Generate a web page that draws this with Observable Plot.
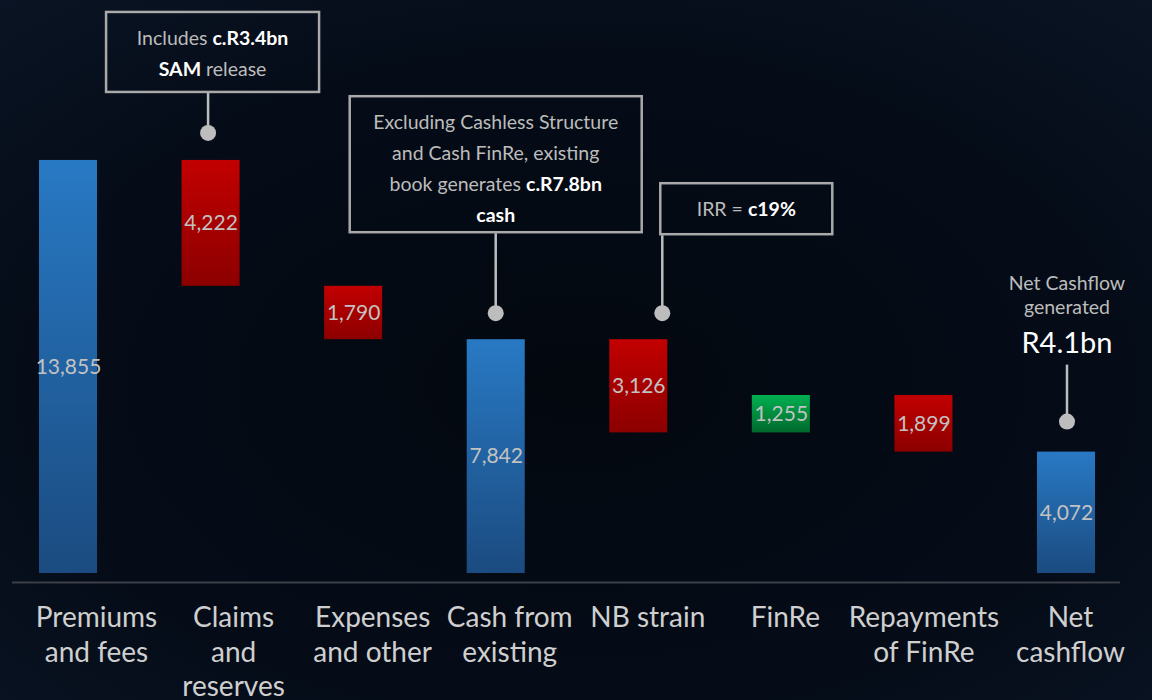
<!DOCTYPE html>
<html>
<head>
<meta charset="utf-8">
<script src="https://cdn.jsdelivr.net/npm/d3@7"></script>
<script src="https://cdn.jsdelivr.net/npm/@observablehq/plot@0.6"></script>
<style>
  html, body { margin: 0; padding: 0; width: 1152px; height: 700px; overflow: hidden; }
  body { background: radial-gradient(ellipse 85% 85% at 50% 55%, #03080f 0%, #050c18 55%, #0c1728 100%); }
  #chart svg { display: block; }
</style>
</head>
<body>
<div id="chart"></div>
<script>
// ---------- data ----------
const categories = ["Premiums and fees", "Claims and reserves", "Expenses and other", "Cash from existing",
                    "NB strain", "FinRe", "Repayments of FinRe", "Net cashflow"];
const tickLabels = ["Premiums\nand fees", "Claims\nand\nreserves", "Expenses\nand other", "Cash from\nexisting",
                    "NB strain", "FinRe", "Repayments\nof FinRe", "Net\ncashflow"];
const values = [13855, -4222, -1790, 7842, -3126, 1255, -1899, 4072];
const kinds = ["total", "decrease", "decrease", "total", "decrease", "increase", "decrease", "total"];
const valueLabels = ["13,855", "4,222", "1,790", "7,842", "3,126", "1,255", "1,899", "4,072"];

const calloutCategories = ["Claims and reserves", "Cash from existing", "NB strain", "Net cashflow"];
// each line: list of [text, weight] where 0 = regular grey, 1 = bold white, 2 = large white
const calloutText = [
  [[["Includes ", 0], ["c.R3.4bn", 1]], [["SAM", 1], [" release", 0]]],
  [[["Excluding Cashless Structure", 0]], [["and Cash FinRe, existing", 0]], [["book generates ", 0], ["c.R7.8bn", 1]], [["cash", 1]]],
  [[["IRR = ", 0], ["c19%", 1]]],
  [[["Net Cashflow", 0]], [["generated", 0]], [["R4.1bn", 2]]]
];

// ---------- waterfall table ----------
let cum = 0;
const rows = categories.map((c, i) => {
  const v = values[i];
  let y1, y2;
  if (kinds[i] === "total") { y1 = 0; y2 = v; cum = v; }
  else { y1 = cum; y2 = cum + v; cum = y2; }
  return { category: c, y1, y2, top: Math.max(y1, y2), mid: (y1 + y2) / 2, kind: kinds[i], label: valueLabels[i] };
});

// ---------- layout (pixels) ----------
const labelDx = [28, 22.5, 19, 13.5, 9, 4, 0, 4];
const calloutLayout = [
  { dx: -2.5, gap: 27, stem: 41, boxW: 213, boxH: 80, boxDx: 4.5 },
  { dx: 0, gap: 26, stem: 81, boxW: 292, boxH: 136, boxDx: 0 },
  { dx: 24, gap: 26, stem: 79, boxW: 172, boxH: 51, boxDx: 84 },
  { dx: 1, gap: 30, stem: 58, boxW: 0, boxH: 0, boxDx: 0, lineY: [-132, -108, -69] }
];

const chart = Plot.plot({
  width: 1152,
  height: 700,
  marginTop: 0,
  marginBottom: 127,
  marginLeft: 0,
  marginRight: 18,
  style: { background: "transparent", fontFamily: "Lato, 'Open Sans', sans-serif", overflow: "visible" },
  x: { domain: categories, paddingInner: 0.593, paddingOuter: 0.2735, round: false },
  y: { domain: [0, 19220], axis: null },
  marks: [
    Plot.ruleY([0], { dy: 9, insetLeft: 12, insetRight: 14, stroke: "#3a3f48", strokeWidth: 2 }),
    Plot.barY(rows, { filter: d => d.kind === "total", x: "category", y1: "y1", y2: "y2", fill: "url(#gBlue)" }),
    Plot.barY(rows, { filter: d => d.kind === "decrease", x: "category", y1: "y1", y2: "y2", fill: "url(#gRed)" }),
    Plot.barY(rows, { filter: d => d.kind === "increase", x: "category", y1: "y1", y2: "y2", fill: "url(#gGreen)" }),
    Plot.text(rows, { x: "category", y: "mid", text: "label", fill: "#c2c2c2", fontSize: 21 }),
    ...categories.map((c, i) => Plot.axisX([c], {
      tickSize: 0, tickPadding: 29.5, label: null, dx: labelDx[i],
      tickFormat: d => tickLabels[categories.indexOf(d)],
      fontSize: 28, lineHeight: 1.23, color: "#cfcfcf"
    }))
  ]
});

document.getElementById("chart").appendChild(chart);

// gradients
const svg = d3.select(chart);
const defs = svg.insert("defs", ":first-child");
[["gBlue", "#2879c4", "#1b4b80"], ["gRed", "#c20000", "#8c0000"], ["gGreen", "#00b050", "#00692c"]].forEach(([id, a, b]) => {
  const g = defs.append("linearGradient").attr("id", id).attr("x1", 0).attr("y1", 0).attr("x2", 0).attr("y2", 1);
  g.append("stop").attr("offset", "0%").attr("stop-color", a);
  g.append("stop").attr("offset", "100%").attr("stop-color", b);
});

// callouts using Plot's scales
const xs = chart.scale("x");
const ys = chart.scale("y");
const layer = svg.append("g").attr("font-family", "Lato, 'Open Sans', sans-serif");
calloutCategories.forEach((cat, k) => {
  const L = calloutLayout[k];
  const row = rows.find(r => r.category === cat);
  const ax = xs.apply(cat) + xs.bandwidth / 2 + L.dx;
  const dotY = ys.apply(row.top) - L.gap;
  const boxBottom = dotY - L.stem;
  layer.append("line").attr("x1", ax).attr("x2", ax).attr("y1", boxBottom + 1).attr("y2", dotY)
    .attr("stroke", "#bdbdbd").attr("stroke-width", 2.5);
  layer.append("circle").attr("cx", ax).attr("cy", dotY).attr("r", 8).attr("fill", "#bdbdbd");
  const cx = ax + L.boxDx;
  let baselines;
  if (L.boxW > 0) {
    const top = boxBottom - L.boxH;
    layer.append("rect").attr("x", cx - L.boxW / 2).attr("y", top).attr("width", L.boxW).attr("height", L.boxH)
      .attr("fill", "none").attr("stroke", "#a9a9a9").attr("stroke-width", 2.5);
    baselines = calloutText[k].map((_, i) => top + 33 + i * 31);
  } else {
    baselines = L.lineY.map(v => dotY + v);
  }
  calloutText[k].forEach((line, i) => {
    const t = layer.append("text").attr("x", cx).attr("y", baselines[i]).attr("text-anchor", "middle");
    line.forEach(([s, w]) => {
      const ts = t.append("tspan").text(s);
      if (w === 0) ts.attr("fill", "#bcbcbc").attr("font-size", 19.5);
      else if (w === 1) ts.attr("fill", "#ffffff").attr("font-weight", "bold").attr("font-size", 19.5);
      else ts.attr("fill", "#ffffff").attr("font-size", 29);
    });
  });
});
</script>
</body>
</html>
